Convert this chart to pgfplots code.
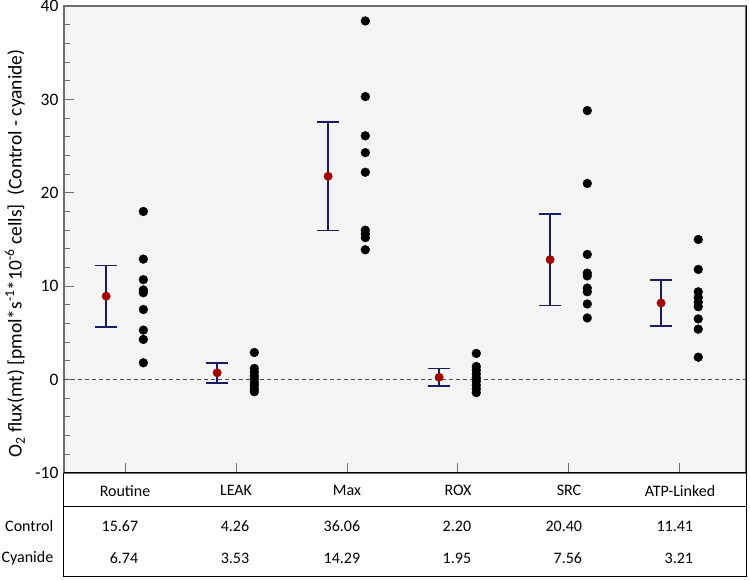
\documentclass[border=0pt]{standalone}
\usepackage{pgfplots}
\pgfplotsset{compat=1.18}
\usepackage{pgfplotstable}
\usepackage{fontspec}
\setmainfont{Carlito}
\definecolor{bgc}{HTML}{F4F4F4}
\definecolor{navy}{HTML}{1B1B5E}
\definecolor{dred}{HTML}{A30000}
\definecolor{framec}{HTML}{6E6E6E}

\pgfplotstableread{
x mean err
0 8.93 3.27
1 0.73 1.07
2 21.77 5.80
3 0.25 0.93
4 12.84 4.91
5 8.20 2.46
}\meantable

\pgfplotstableread{
x y
0 18.0
0 12.9
0 10.7
0 9.6
0 9.3
0 7.5
0 5.3
0 4.3
0 1.8
1 2.9
1 1.2
1 0.8
1 0.4
1 0.1
1 -0.3
1 -0.6
1 -1.0
1 -1.3
2 38.4
2 30.3
2 26.1
2 24.3
2 22.2
2 16.0
2 15.6
2 15.2
2 13.9
3 2.8
3 1.4
3 1.0
3 0.6
3 0.2
3 -0.2
3 -0.6
3 -1.0
3 -1.4
4 28.8
4 21.0
4 13.4
4 11.4
4 11.1
4 9.8
4 9.4
4 8.1
4 6.6
5 15.0
5 11.8
5 9.4
5 8.8
5 8.3
5 7.8
5 6.5
5 5.4
5 2.4
}\pointtable

\begin{document}
\begin{tikzpicture}[x=1pt,y=1pt]
\begin{axis}[width=682pt, height=467pt, scale only axis,
  xmin=-0.55, xmax=5.595, ymin=-10, ymax=40, clip=false,
  axis background/.style={fill=bgc},
  axis line style={draw=framec, line width=1.5pt},
  ytick={-10,0,10,20,30,40}, minor y tick num=4,
  xtick={0,1,2,3,4,5}, xticklabels={},
  tick align=inside, ytick pos=left, xtick pos=bottom,
  major tick length=10pt, minor tick length=6pt,
  tick style={draw=framec, line width=1pt},
  /pgf/number format/assume math mode=true,
  ticklabel style={font=\fontsize{17.5}{20}\selectfont},
  yticklabel style={xshift=-2pt},
  ylabel={O\textsubscript{2} flux(mt) [pmol*s\textsuperscript{-1}*10\textsuperscript{-6} cells]\ \ (Control - cyanide)},
  ylabel style={at={(axis description cs:-0.072,0.47)}, anchor=center, font=\fontsize{19.5}{22}\selectfont},
]
\coordinate (msw) at (rel axis cs:0,0);
\addplot[dash pattern=on 4pt off 3pt, draw=black!70, line width=0.9pt, forget plot] coordinates {(-0.55,0) (5.595,0)};
\addplot[draw=none, mark=none, forget plot,
  error bars/.cd, y dir=both, y explicit,
  error bar style={draw=navy, solid, line width=1.6pt},
  error mark=-,
  error mark options={draw=navy, solid, line width=1.6pt, mark size=11pt, rotate=90}]
  table[x expr=\thisrow{x}-0.17, y=mean, y error=err] {\meantable};
\addplot[only marks, mark=*, mark size=4.2pt, mark options={fill=dred, draw=dred}]
  table[x expr=\thisrow{x}-0.17, y=mean] {\meantable};
\addplot[only marks, mark=*, mark size=4.4pt, mark options={fill=black, draw=black}]
  table[x expr=\thisrow{x}+0.165, y=y] {\pointtable};
\draw[black, line width=1pt] (rel axis cs:1,0) -- (rel axis cs:1,1);
% table below the plot
\draw[black, line width=1pt] (axis cs:-0.55,-10) -- (axis cs:-0.55,-21.135) -- (axis cs:5.595,-21.135) -- (axis cs:5.595,-10);
\draw[black, line width=1pt] (axis cs:-0.55,-10) -- (axis cs:5.595,-10);
\draw[black, line width=1pt] (axis cs:-0.55,-13.64) -- (axis cs:5.595,-13.64);
\begin{scope}[font=\fontsize{16}{19}\selectfont]
\node[anchor=center] at (axis cs:0,-11.9) {Routine};
\node[anchor=center] at (axis cs:1,-11.9) {LEAK};
\node[anchor=center] at (axis cs:2,-11.9) {Max};
\node[anchor=center] at (axis cs:3,-11.9) {ROX};
\node[anchor=center] at (axis cs:4,-11.9) {SRC};
\node[anchor=center] at (axis cs:5,-11.9) {ATP-Linked};
\node[anchor=east] at (axis cs:0.15,-15.67) {15.67};
\node[anchor=east] at (axis cs:1.15,-15.67) {4.26};
\node[anchor=east] at (axis cs:2.15,-15.67) {36.06};
\node[anchor=east] at (axis cs:3.15,-15.67) {2.20};
\node[anchor=east] at (axis cs:4.15,-15.67) {20.40};
\node[anchor=east] at (axis cs:5.15,-15.67) {11.41};
\node[anchor=east] at (axis cs:0.15,-19.1) {6.74};
\node[anchor=east] at (axis cs:1.15,-19.1) {3.53};
\node[anchor=east] at (axis cs:2.15,-19.1) {14.29};
\node[anchor=east] at (axis cs:3.15,-19.1) {1.95};
\node[anchor=east] at (axis cs:4.15,-19.1) {7.56};
\node[anchor=east] at (axis cs:5.15,-19.1) {3.21};
\node[anchor=east] at (axis cs:-0.615,-15.67) {Control};
\node[anchor=east] at (axis cs:-0.615,-19.1) {Cyanide};
\end{scope}
\end{axis}
\pgfresetboundingbox
\path[use as bounding box, shift={(msw)}] (-64,-107) rectangle (686,473);
\end{tikzpicture}
\end{document}
